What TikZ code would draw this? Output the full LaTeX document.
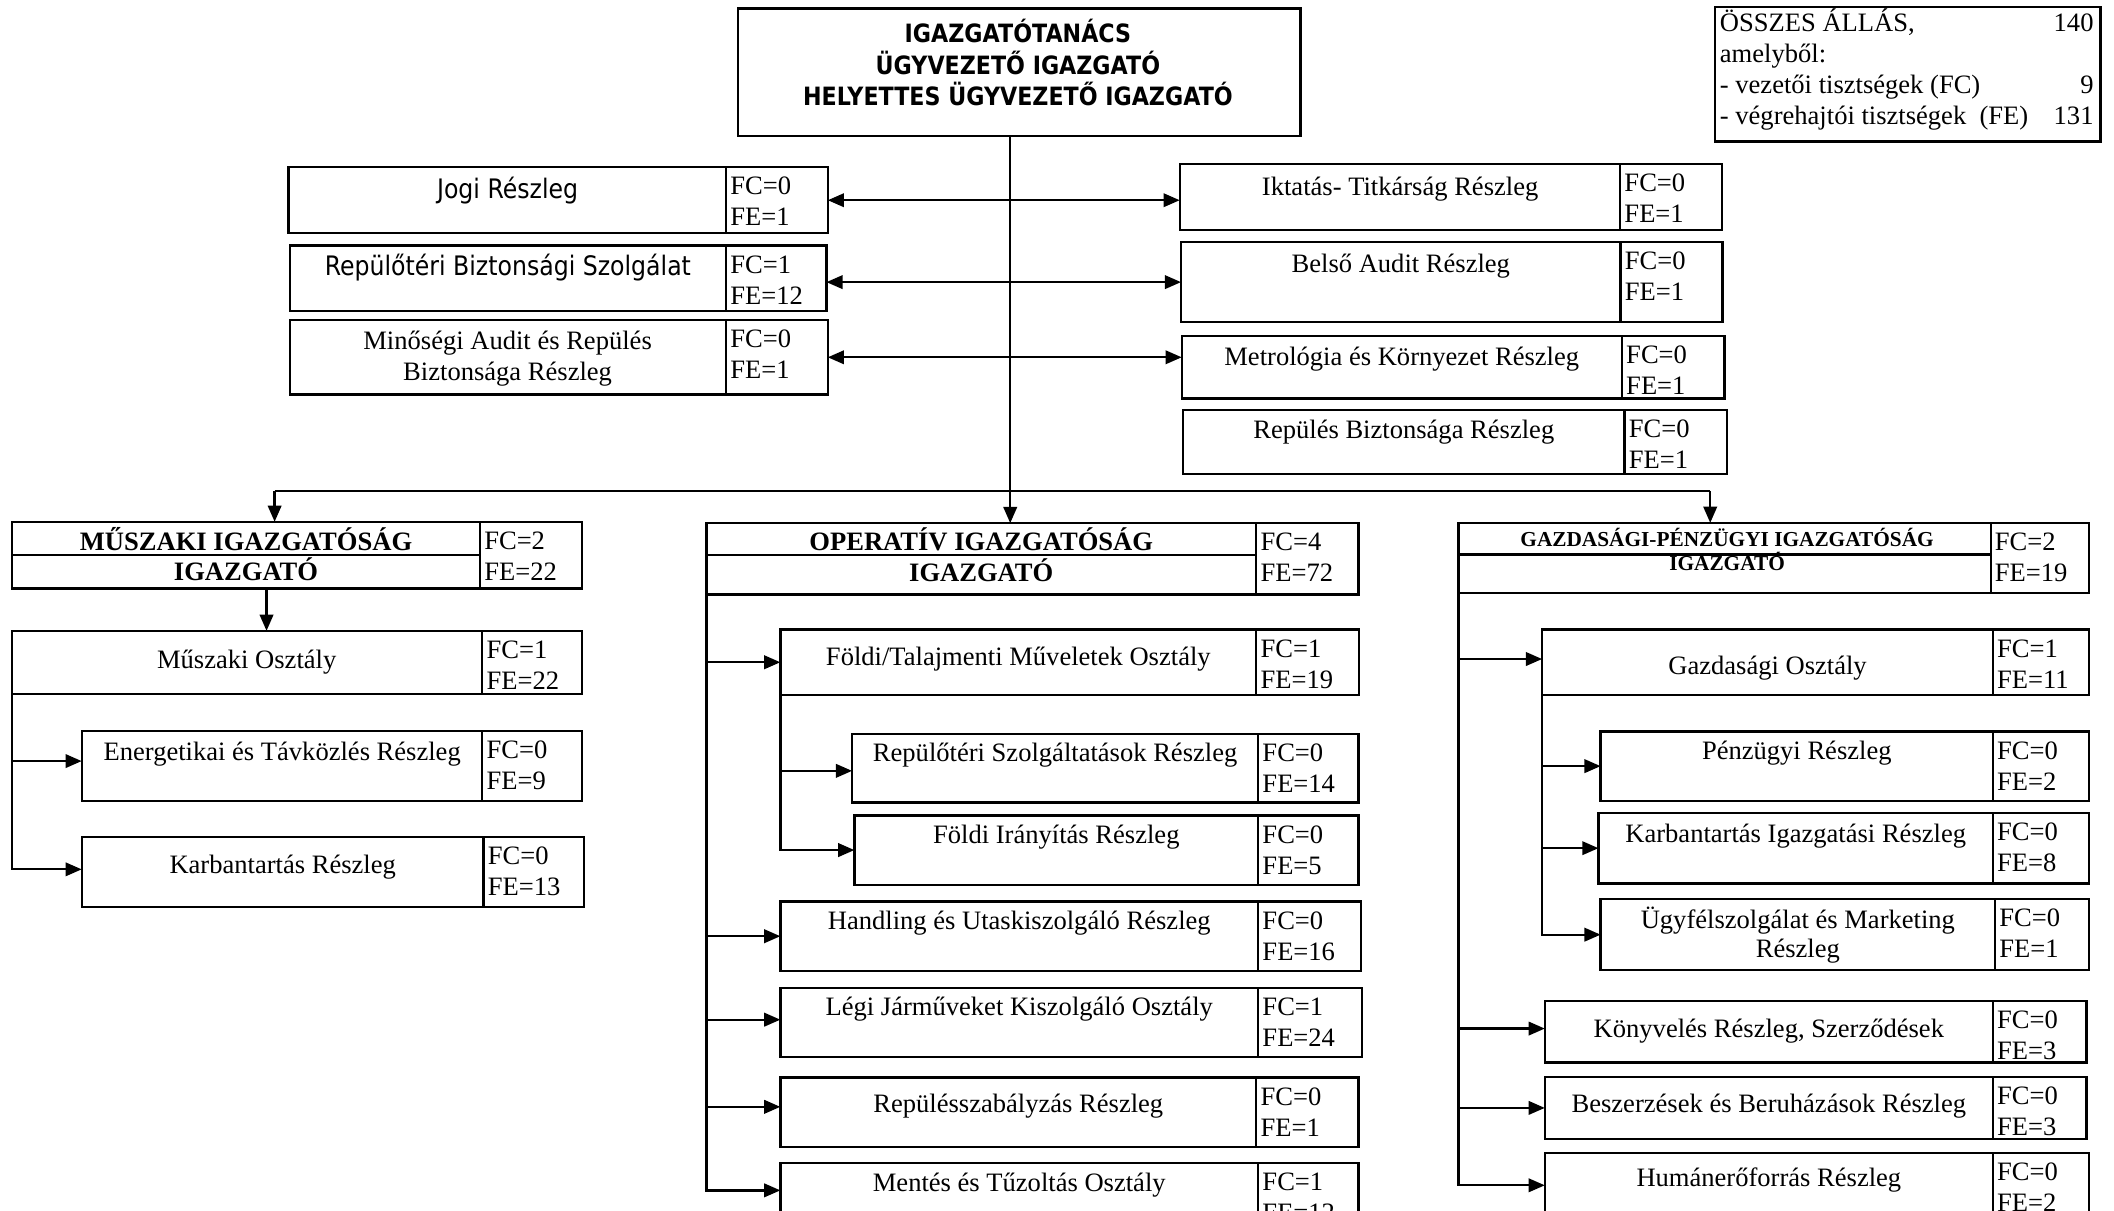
\documentclass[tikz,border=0pt]{standalone}
\usepackage{fontspec}
\setmainfont{Liberation Serif}
\newfontfamily\tahoma[FakeStretch=0.88]{DejaVu Sans}
\usetikzlibrary{arrows.meta}
\newcommand\fsz{\fontsize{19.7}{23}\selectfont}
\def\ogeom#1/#2/#3/#4/#5\relax{\def\oxa{#1}\def\oya{#2}\def\oxs{#3}\def\oxb{#4}\def\oyb{#5}}
\newcommand\orgunit[4]{%
  \ogeom#2\relax
  \node[box, minimum width={\oxs-\oxa}, minimum height={\oyb-\oya}] (#1) at (\oxa,\oya) {};
  \node[box, minimum width={\oxb-\oxs}, minimum height={\oyb-\oya}] (#1fc) at (\oxs,\oya) {};
  \node[fctxt] (#1c) at ({\oxs+3},{\oya+20.5}) {FC=#3};
  \node[fctxt] (#1e) at ({\oxs+3},{\oya+43.5}) {FE=#4};
}
\tikzset{
  box/.style={draw, line width=1.7pt, inner sep=0pt, outer sep=0pt, anchor=north west},
  fctxt/.style={inner sep=0pt, anchor=base west, font=\fsz},
  numtxt/.style={inner sep=0pt, anchor=base east, font=\fsz},
  txt/.style={inner sep=0pt, anchor=base, font=\fsz},
  stxt/.style={inner sep=0pt, anchor=base, font=\tahoma\fontsize{19.9}{23}\selectfont},
  toptxt/.style={inner sep=0pt, anchor=base, font=\tahoma\bfseries\fontsize{18.7}{23}\selectfont},
  htxt/.style={inner sep=0pt, anchor=base, font=\bfseries\fsz},
  gtxt/.style={inner sep=0pt, anchor=base, font=\bfseries\fontsize{15.8}{18}\selectfont},
  ln/.style={line width=1.7pt},
  arr/.style={line width=1.7pt, -{Triangle[length=12pt,width=10pt]}},
  darr/.style={line width=1.7pt, {Triangle[length=12pt,width=10pt]}-{Triangle[length=12pt,width=10pt]}},
}
\begin{document}
\begin{tikzpicture}[x=1pt,y=-1pt]
\useasboundingbox (0,0) rectangle (1568,898);
\fill[white] (0,0) rectangle (1568,898);
\clip (0,0) rectangle (1568,898);

% top box
\node[box, minimum width=417.3, minimum height=94.8] (top) at (547.4,6.2) {};
\node[toptxt] (top1) at (755,31.5) {IGAZGATÓTANÁCS};
\node[toptxt] (top2) at (755,55) {ÜGYVEZETŐ IGAZGATÓ};
\node[toptxt] (top3) at (755,78.5) {HELYETTES ÜGYVEZETŐ IGAZGATÓ};

% totals box
\node[box, minimum width=286, minimum height=100] (tot) at (1272,5) {};
\node[fctxt] (tot1) at (1275.5,23.5) {ÖSSZES ÁLLÁS,};
\node[numtxt] (tot1n) at (1553,23.5) {140};
\node[fctxt] (tot2) at (1275.5,46.5) {amelyből:};
\node[fctxt] (tot3) at (1275.5,69.5) {- vezetői tisztségek (FC)};
\node[numtxt] (tot3n) at (1553,69.5) {9};
\node[fctxt] (tot4) at (1275.5,92.5) {- végrehajtói tisztségek\ \ (FE)};
\node[numtxt] (tot4n) at (1553,92.5) {131};

% top left group
\orgunit{jogi}{214/124/538.5/614/173}{0}{1}
\node[stxt] (jogit) at (376.5,147.5) {Jogi Részleg};
\orgunit{rbsz}{215/182/538.5/613/230.5}{1}{12}
\node[stxt] (rbszt) at (376.7,204.3) {Repülőtéri Biztonsági Szolgálat};
\orgunit{minos}{215/237.5/538.5/614/292.5}{0}{1}
\node[txt] (minost1) at (376.5,259) {Minőségi Audit és Repülés};
\node[txt] (minost2) at (376.5,282) {Biztonsága Részleg};

% top right group
\orgunit{iktat}{875/121.5/1201.7/1277.4/170.5}{0}{1}
\node[txt] (iktatt) at (1038.5,145) {Iktatás- Titkárság Részleg};
\orgunit{belso}{876/179.5/1202/1277.5/239}{0}{1}
\node[txt] (belsot) at (1039,201.8) {Belső Audit Részleg};
\orgunit{metro}{876.5/249/1203/1279/295.5}{0}{1}
\node[txt] (metrot) at (1039.7,271) {Metrológia és Környezet Részleg};
\orgunit{repbiz}{877.5/304/1205/1281/351.5}{0}{1}
\node[txt] (repbizt) at (1041.2,325.5) {Repülés Biztonsága Részleg};

% left column
\orgunit{muszh}{9/387/356/431.5/436.4}{2}{22}
\draw[ln] (muszh.west) -- (muszh.east);
\node[htxt] (muszht1) at (182.5,408.3) {MŰSZAKI IGAZGATÓSÁG};
\node[htxt] (muszht2) at (182.5,430.5) {IGAZGATÓ};
\orgunit{muszo}{9/467.9/357.7/431.5/515}{1}{22}
\node[txt] (muszot) at (183,496) {Műszaki Osztály};
\orgunit{ener}{60.6/542/357.7/431.5/594}{0}{9}
\node[txt] (enert) at (209.3,564) {Energetikai és Távközlés Részleg};
\orgunit{karb}{60.6/621/358.7/432.9/672.6}{0}{13}
\node[txt] (karbt) at (209.7,648) {Karbantartás Részleg};

% middle column
\orgunit{oper}{524/388/931.8/1007.6/441}{4}{72}
\draw[ln] ([yshift=3pt]oper.west) -- ([yshift=3pt]oper.east);
\node[htxt] (opert1) at (727.8,408.4) {OPERATÍV IGAZGATÓSÁG};
\node[htxt] (opert2) at (727.8,431.3) {IGAZGATÓ};
\orgunit{foldt}{578.8/466.8/931.8/1007.8/515.6}{1}{19}
\node[txt] (foldtt) at (755.3,493.5) {Földi/Talajmenti Műveletek Osztály};
\orgunit{repsz}{632/544.2/933.2/1007.6/595.3}{0}{14}
\node[txt] (repszt) at (782.6,564.8) {Repülőtéri Szolgáltatások Részleg};
\orgunit{foldir}{633.7/604.8/933.2/1007.6/656.2}{0}{5}
\node[txt] (foldirt) at (783.5,625.7) {Földi Irányítás Részleg};
\orgunit{handl}{578.8/668.7/933.2/1009.3/720.1}{0}{16}
\node[txt] (handlt) at (756,689.7) {Handling és Utaskiszolgáló Részleg};
\orgunit{legi}{578.8/732.6/933.2/1010.3/784}{1}{24}
\node[txt] (legit) at (756,753.5) {Légi Járműveket Kiszolgáló Osztály};
\orgunit{repszab}{578.8/799.2/931.8/1007.6/850.7}{0}{1}
\node[txt] (repszabt) at (755.3,824.9) {Repülésszabályzás Részleg};
\orgunit{mentes}{578.8/862.8/933.2/1007.6/908}{1}{12}
\node[txt] (mentest) at (756,883.7) {Mentés és Tűzoltás Osztály};

% right column
\orgunit{gazdh}{1081.7/387.8/1476.5/1549.2/439.9}{2}{19}
\draw[ln] ([yshift=2.5pt]gazdh.west) -- ([yshift=2.5pt]gazdh.east);
\node[gtxt] (gazdht1) at (1281,405.7) {GAZDASÁGI-PÉNZÜGYI IGAZGATÓSÁG};
\node[gtxt] (gazdht2) at (1281,423.2) {IGAZGATÓ};
\orgunit{gazdo}{1143.8/467/1478.1/1549.2/515.6}{1}{11}
\node[txt] (gazdot) at (1311,500.2) {Gazdasági Osztály};
\orgunit{penz}{1187.2/542.5/1478.1/1549.2/594}{0}{2}
\node[txt] (penzt) at (1332.7,563.5) {Pénzügyi Részleg};
\orgunit{karbig}{1185.6/603/1478.1/1549.2/655.2}{0}{8}
\node[txt] (karbigt) at (1331.9,624.7) {Karbantartás Igazgatási Részleg};
\orgunit{ugyf}{1187.2/667/1479.7/1549.2/719.5}{0}{1}
\node[txt] (ugyft1) at (1333.5,688.6) {Ügyfélszolgálat és Marketing};
\node[txt] (ugyft2) at (1333.5,710.5) {Részleg};
\orgunit{konyv}{1145.8/742.7/1478.1/1547.6/788.1}{0}{3}
\node[txt] (konyvt) at (1312,769.3) {Könyvelés Részleg, Szerződések};
\orgunit{besz}{1145.8/798.9/1478.1/1547.6/844.6}{0}{3}
\node[txt] (beszt) at (1312,824.9) {Beszerzések és Beruházások Részleg};
\orgunit{human}{1145.8/855.3/1478.1/1549.2/903}{0}{2}
\node[txt] (humant) at (1312,880.4) {Humánerőforrás Részleg};

% connectors
\coordinate (t0) at (749.3,101);
\draw[arr] (t0) -- (t0 |- oper.north);
\draw[darr] (jogifc.east) -- (jogifc.east -| iktat.west);
\draw[darr] (rbszfc.east |- belso.west) -- (belso.west);
\draw[darr] (minosfc.east) -- (minosfc.east -| metro.west);

\coordinate (busL) at (203.7,364);
\coordinate (busR) at (1268.5,364);
\draw[ln] (busL) -- (busR);
\draw[arr] (busL) -- (busL |- muszh.north);
\draw[arr] (busR) -- (busR |- gazdh.north);

\coordinate (m0) at (197.7,436.4);
\draw[arr] (m0) -- (m0 |- muszo.north);
\draw[arr] (muszo.south west) |- ([yshift=2pt]karb.west);
\draw[arr] (muszo.south west |- ener.west) ++(0,-3.5) -- ([yshift=3.5pt]ener.west);

\draw[arr] (oper.south west) |- ([yshift=2.5pt]mentes.west);
\draw[arr] (oper.south west |- foldt.west) -- (foldt.west);
\draw[arr] (oper.south west |- handl.west) -- (handl.west);
\draw[arr] ([yshift=2pt]oper.south west |- legi.west) -- ([yshift=2pt]legi.west);
\draw[arr] ([yshift=4pt]oper.south west |- repszab.west) -- ([yshift=4pt]repszab.west);
\draw[arr] (foldt.south west) |- (foldir.west);
\draw[arr] ([yshift=-2pt]foldt.south west |- repsz.west) -- ([yshift=-2pt]repsz.west);

\draw[arr] (gazdh.south west) |- (human.west);
\draw[arr] ([yshift=2.5pt]gazdh.south west |- gazdo.west) -- ([yshift=2.5pt]gazdo.west);
\draw[arr] ([yshift=2.5pt]gazdh.south west |- konyv.west) -- ([yshift=2.5pt]konyv.west);
\draw[arr] (gazdh.south west |- besz.west) -- (besz.west);
\draw[arr] (gazdo.south west) |- (ugyf.west);
\draw[arr] (gazdo.south west |- penz.west) -- (penz.west);
\draw[arr] (gazdo.south west |- karbig.west) -- (karbig.west);
\end{tikzpicture}
\end{document}
